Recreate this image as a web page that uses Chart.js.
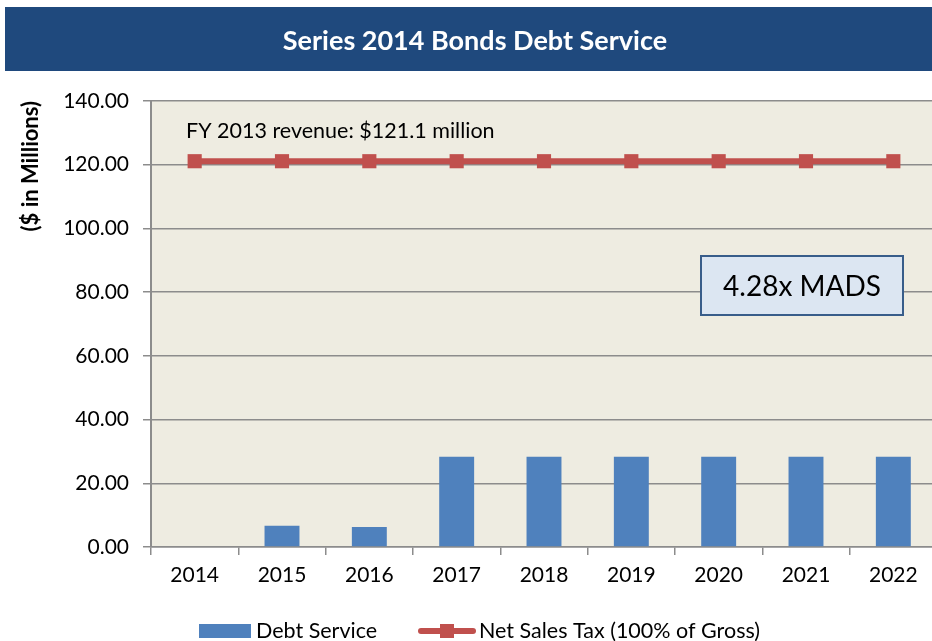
<!DOCTYPE html>
<html>
<head>
<meta charset="utf-8">
<title>Series 2014 Bonds Debt Service</title>
<script src="https://cdn.jsdelivr.net/npm/chart.js@4.4.1/dist/chart.umd.min.js"></script>
<style>
  html, body { margin: 0; padding: 0; background: #fff; overflow: hidden; }
  #wrap { width: 947px; height: 641px; }
</style>
</head>
<body>
<div id="wrap"><canvas id="debtChart" width="947" height="641"></canvas></div>
<script>
    var years = ["2014", "2015", "2016", "2017", "2018", "2019", "2020", "2021", "2022"];
    var debtService = [0, 6.7, 6.3, 28.3, 28.3, 28.3, 28.3, 28.3, 28.3];
    var netSalesTax = [121.1, 121.1, 121.1, 121.1, 121.1, 121.1, 121.1, 121.1, 121.1];

    var chartTitle = "Series 2014 Bonds Debt Service";
    var revenueNote = "FY 2013 revenue: $121.1 million";
    var coverageNote = "4.28x MADS";

    var FONT = "Lato, 'DejaVu Sans', sans-serif";
    var GRID = "#8c8c8c";

    // banner, plot fill, notes and the legend row
    var decorations = {
        id: 'decorations',
        beforeDraw: function (chart) {
            var ctx = chart.ctx, area = chart.chartArea;
            ctx.save();
            ctx.fillStyle = '#ffffff';
            ctx.fillRect(0, 0, chart.width, chart.height);
            ctx.fillStyle = '#1f497d';
            ctx.fillRect(5, 7, chart.width, 64);
            ctx.fillStyle = '#ffffff';
            ctx.font = "bold 27px " + FONT;
            ctx.textAlign = 'center';
            ctx.textBaseline = 'middle';
            ctx.fillText(chartTitle, 475, 41);
            ctx.fillStyle = '#eeece1';
            ctx.fillRect(area.left, area.top, area.right - area.left, area.bottom - area.top);
            ctx.restore();
        },
        afterDraw: function (chart) {
            var ctx = chart.ctx, area = chart.chartArea, y = chart.scales.y;
            ctx.save();
            ctx.fillStyle = '#000000';
            ctx.font = "21.5px " + FONT;
            ctx.textAlign = 'left';
            ctx.textBaseline = 'middle';
            ctx.fillText(revenueNote, area.left + 35, y.getPixelForValue(130.5));

            // coverage box
            var bx = 701, by = 256, bw = 202, bh = 59;
            ctx.fillStyle = '#dce6f2';
            ctx.fillRect(bx, by, bw, bh);
            ctx.strokeStyle = '#385d8a';
            ctx.lineWidth = 2;
            ctx.strokeRect(bx, by, bw, bh);
            ctx.fillStyle = '#000000';
            ctx.font = "28px " + FONT;
            ctx.textAlign = 'center';
            ctx.fillText(coverageNote, bx + bw / 2, by + bh / 2 + 1);

            // legend
            var ds = chart.data.datasets, ly = 631;
            ctx.font = "21.5px " + FONT;
            ctx.textAlign = 'left';
            ctx.fillStyle = ds[0].backgroundColor;
            ctx.fillRect(199, ly - 7, 52, 14);
            ctx.fillStyle = '#000000';
            ctx.fillText(ds[0].label, 256, ly);

            ctx.strokeStyle = ds[1].borderColor;
            ctx.lineWidth = 6;
            ctx.lineCap = 'round';
            ctx.beginPath();
            ctx.moveTo(421, ly);
            ctx.lineTo(473, ly);
            ctx.stroke();
            ctx.fillStyle = ds[1].borderColor;
            ctx.fillRect(440, ly - 7, 14, 14);
            ctx.fillStyle = '#000000';
            ctx.fillText(ds[1].label, 479, ly);
            ctx.restore();
        }
    };

    var ctxD = document.getElementById("debtChart").getContext('2d');
    var debtChart = new Chart(ctxD, {
        type: 'bar',
        data: {
            labels: years,
            datasets: [{
                type: 'bar',
                label: "Debt Service",
                data: debtService,
                backgroundColor: '#4f81bd',
                borderWidth: 0,
                categoryPercentage: 1,
                barPercentage: 0.4,
                order: 2
            }, {
                type: 'line',
                label: "Net Sales Tax (100% of Gross)",
                data: netSalesTax,
                borderColor: '#c0504d',
                backgroundColor: '#c0504d',
                borderWidth: 6,
                pointStyle: 'rect',
                pointRadius: 10,
                pointBorderWidth: 0,
                tension: 0,
                order: 1
            }]
        },
        options: {
            responsive: false,
            animation: false,
            devicePixelRatio: 1,
            layout: { padding: { top: 101, right: 0, bottom: 0, left: 0 } },
            plugins: {
                legend: { display: false },
                tooltip: { enabled: false },
                title: { display: false }
            },
            scales: {
                x: {
                    offset: true,
                    grid: {
                        offset: true,
                        drawOnChartArea: false,
                        drawTicks: true,
                        tickLength: 8,
                        color: GRID,
                        lineWidth: 1.5
                    },
                    border: { color: GRID, width: 1.5 },
                    ticks: {
                        color: '#000000',
                        font: { family: FONT, size: 21 },
                        padding: 8,
                        maxRotation: 0
                    },
                    afterFit: function (scale) { scale.height = 94; }
                },
                y: {
                    min: 0,
                    max: 140,
                    grid: {
                        color: GRID,
                        lineWidth: 1.5,
                        tickLength: 8
                    },
                    border: { color: GRID, width: 2 },
                    ticks: {
                        stepSize: 20,
                        color: '#000000',
                        font: { family: FONT, size: 21 },
                        padding: 14,
                        callback: function (v) { return v.toFixed(2); }
                    },
                    title: {
                        display: true,
                        text: "($ in Millions)",
                        align: 'end',
                        color: '#000000',
                        font: { family: FONT, size: 22, weight: 'bold' },
                        padding: { top: 18, bottom: 0 }
                    },
                    afterFit: function (scale) { scale.width = 151; }
                }
            }
        },
        plugins: [decorations]
    });
</script>
</body>
</html>
